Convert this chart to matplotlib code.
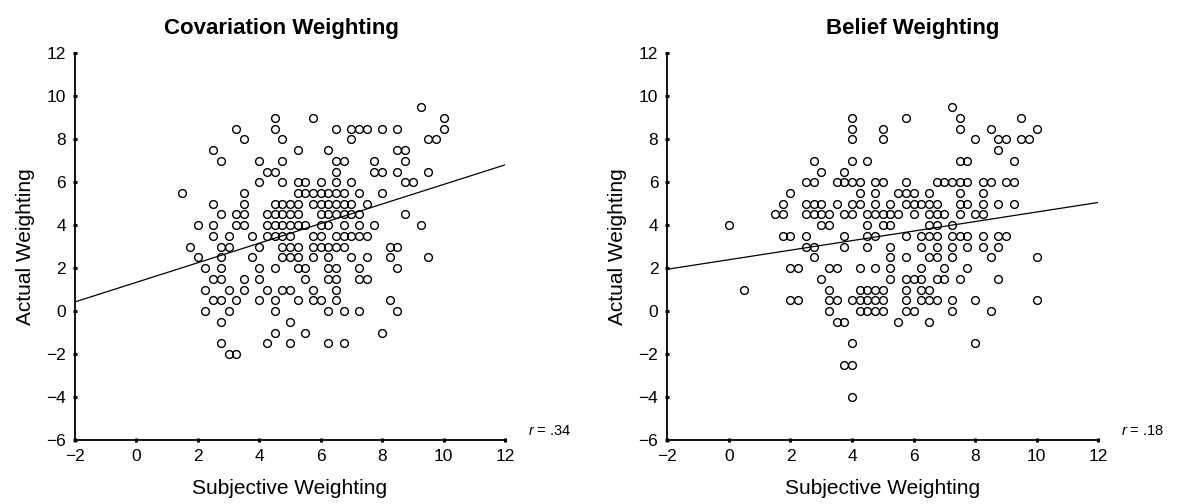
import matplotlib
matplotlib.use("Agg")
import matplotlib.pyplot as plt

plt.rcParams["font.family"] = ["Liberation Sans", "DejaVu Sans"]
plt.rcParams["mathtext.fontset"] = "custom"
plt.rcParams["mathtext.rm"] = "Liberation Sans"
plt.rcParams["mathtext.it"] = "Liberation Sans:italic"

# points, one row per actual weighting value:
# actual weighting (y) -> list of subjective weightings (x)
COV_ROWS = {
    9.5: [9.25],
    9.0: [4.5, 5.75, 10],
    8.5: [3.25, 4.5, 6.5, 7, 7.25, 7.5, 8, 8.5, 10],
    8.0: [3.5, 4.75, 7, 9.5, 9.75],
    7.5: [2.5, 5.25, 6.25, 8.5, 8.75],
    7.0: [2.75, 4, 4.75, 6.5, 6.75, 7.75, 8.75],
    6.5: [4.25, 4.5, 6.5, 7.75, 8, 8.5, 9.5],
    6.0: [4, 4.75, 5.25, 5.5, 6, 6.5, 7, 8.75, 9],
    5.5: [1.5, 3.5, 5.25, 5.5, 5.75, 6, 6.25, 6.5, 6.75, 7.25, 8],
    5.0: [2.5, 3.5, 4.5, 4.75, 5, 5.25, 5.75, 6, 6.25, 6.5, 6.75, 7, 7.5],
    4.5: [2.75, 3.25, 3.5, 4.25, 4.5, 4.75, 5, 5.25, 6, 6.25, 6.5, 6.75, 7,
          7.25, 8.75],
    4.0: [2, 2.5, 3.25, 3.5, 4.25, 4.5, 4.75, 5, 5.25, 5.5, 6, 6.25, 6.75,
          7.25, 7.75, 9.25],
    3.5: [2.5, 3, 3.75, 4.25, 4.5, 4.75, 5, 5.75, 6, 6.5, 6.75, 7, 7.25, 7.5],
    3.0: [1.75, 2.75, 3, 4, 4.75, 5, 5.25, 5.75, 6, 6.25, 6.5, 6.75, 8.25, 8.5],
    2.5: [2, 2.75, 3.75, 4.75, 5, 5.25, 5.75, 6.25, 7, 7.5, 8.25, 9.5],
    2.0: [2.25, 2.75, 4, 4.5, 5.25, 5.5, 6.25, 6.5, 7.25, 8.5],
    1.5: [2.5, 2.75, 3.5, 4, 5.5, 6.25, 6.5, 7.25, 7.5],
    1.0: [2.25, 3, 3.5, 4.25, 4.75, 5, 5.75, 6.5],
    0.5: [2.5, 2.75, 3.25, 4, 4.5, 5.25, 5.75, 6, 6.5, 8.25],
    0.0: [2.25, 3, 4.5, 6.25, 6.75, 7.25, 8.5],
    -0.5: [2.75, 5],
    -1.0: [4.5, 5.5, 8],
    -1.5: [2.75, 4.25, 5, 6.25, 6.75],
    -2.0: [3, 3.25],
}

BEL_ROWS = {
    9.5: [7.25],
    9.0: [4, 5.75, 7.5, 9.5],
    8.5: [4, 5, 7.5, 8.5, 10],
    8.0: [4, 5, 8, 8.75, 9, 9.5, 9.75],
    7.5: [8.75],
    7.0: [2.75, 4, 4.5, 7.5, 7.75, 9.25],
    6.5: [3, 3.75],
    6.0: [2.5, 2.75, 3.5, 3.75, 4, 4.25, 4.75, 5, 5.75, 6.75, 7, 7.25, 7.5,
          7.75, 8.25, 8.5, 9, 9.25],
    5.5: [2, 4.25, 4.75, 5.5, 5.75, 6, 6.5, 7.5, 8.25],
    5.0: [1.75, 2.5, 2.75, 3, 3.5, 4, 4.25, 4.75, 5.25, 5.75, 6, 6.25, 6.5,
          6.75, 7.5, 7.75, 8.25, 8.75, 9.25],
    4.5: [1.5, 1.75, 2.5, 2.75, 3, 3.25, 3.75, 4, 4.5, 4.75, 5, 5.25, 5.5, 6,
          6.5, 6.75, 7, 7.5, 8, 8.25],
    4.0: [0, 3, 3.25, 4.5, 5, 5.25, 6.5, 6.75, 7.25],
    3.5: [1.75, 2, 2.5, 3.75, 4.5, 4.75, 5.75, 6.25, 6.5, 6.75, 7.25, 7.5,
          7.75, 8.25, 8.75, 9],
    3.0: [2.5, 2.75, 3.75, 4.5, 5.25, 6.25, 6.75, 7.25, 7.75, 8.25, 8.75],
    2.5: [2.75, 5.25, 5.75, 6.5, 6.75, 7.25, 8.5, 10],
    2.0: [2, 2.25, 3.25, 3.5, 4.25, 4.75, 5.25, 6.25, 7, 7.75],
    1.5: [3, 5.25, 5.75, 6, 6.25, 6.75, 7, 7.5, 8.75],
    1.0: [0.5, 3.25, 4.25, 4.5, 4.75, 5, 5.75, 6.25, 6.5],
    0.5: [2, 2.25, 3.25, 3.5, 4, 4.25, 4.5, 4.75, 5, 5.75, 6.25, 6.5, 6.75,
          7.25, 8, 10],
    0.0: [3.25, 4.25, 4.5, 4.75, 5, 5.75, 6, 7.25, 8.5],
    -0.5: [3.5, 3.75, 5.5, 6.5],
    -1.5: [4, 8],
    -2.5: [3.75, 4],
    -4.0: [4],
}

# regression lines, read at the two ends
COV_FIT_X = [-2, 12]
COV_FIT_Y = [0.43, 6.81]
BEL_FIT_X = [-2, 12]
BEL_FIT_Y = [1.95, 5.06]

COV_R = ".34"
BEL_R = ".18"

X_TICKS = [-2, 0, 2, 4, 6, 8, 10, 12]
Y_TICKS = [-6, -4, -2, 0, 2, 4, 6, 8, 10, 12]


def expand(rows):
    xs, ys = [], []
    for y, row in rows.items():
        xs.extend(row)
        ys.extend([y] * len(row))
    return xs, ys


def draw_panel(ax, rows, fit_x, fit_y, r_txt, title, title_x):
    xs, ys = expand(rows)
    ax.plot(xs, ys, "o", mfc="none", mec="black", ms=5.6, mew=1.0,
            clip_on=False, zorder=3)
    ax.plot(fit_x, fit_y, color="black", lw=0.9, zorder=2)
    ax.set_xlim(-2, 12)
    ax.set_ylim(-6, 12)
    ax.set_xticks(X_TICKS)
    ax.set_yticks(Y_TICKS)
    for s in ("top", "right"):
        ax.spines[s].set_visible(False)
    for s in ("left", "bottom"):
        ax.spines[s].set_linewidth(1.3)
    ax.tick_params(direction="inout", length=3, width=2.2, labelsize=12.5,
                   pad=5)
    ax.set_xlabel("Subjective Weighting", fontsize=15, labelpad=11)
    ax.set_ylabel("Actual Weighting", fontsize=15, labelpad=8)
    ax.set_title(title, fontsize=16, fontweight="bold", pad=14, x=title_x)
    ax.text(1.053, 0.005, rf"$r$ = {r_txt}", transform=ax.transAxes,
            fontsize=10.5, ha="left", va="bottom")


fig = plt.figure(figsize=(11.84, 5.04), dpi=100)
ax1 = fig.add_axes([0.0633, 0.127, 0.3632, 0.767])
ax2 = fig.add_axes([0.5636, 0.127, 0.3640, 0.767])

draw_panel(ax1, COV_ROWS, COV_FIT_X, COV_FIT_Y, COV_R,
           "Covariation Weighting", 0.48)
draw_panel(ax2, BEL_ROWS, BEL_FIT_X, BEL_FIT_Y, BEL_R,
           "Belief Weighting", 0.57)

fig.savefig("out.png", dpi=100)
